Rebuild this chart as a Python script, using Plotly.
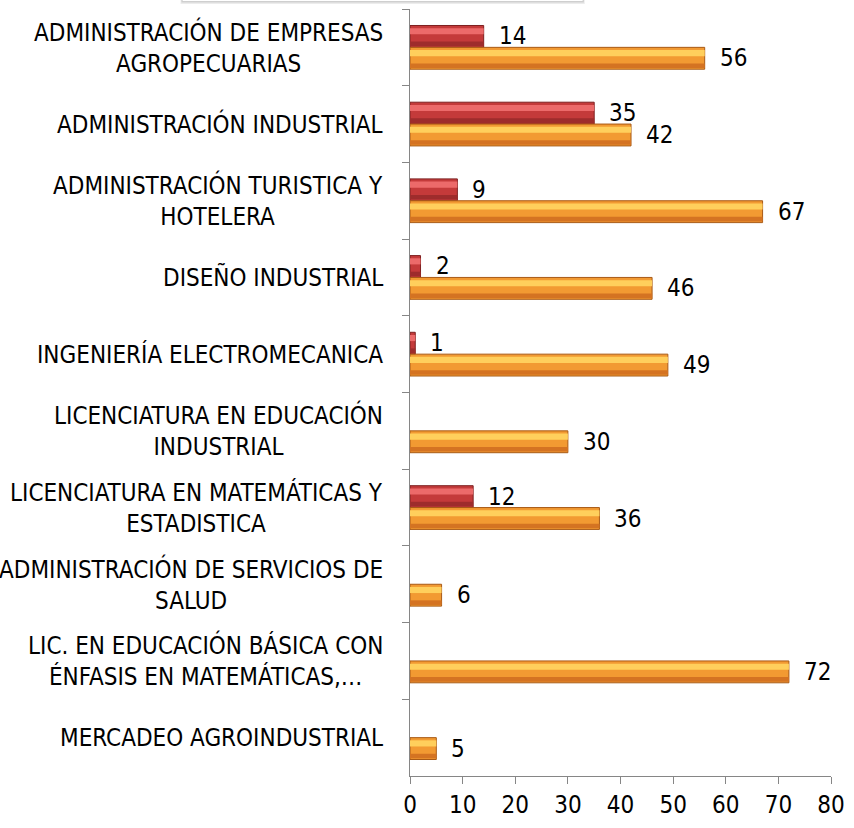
import plotly.graph_objects as go

categories = [
    "ADMINISTRACIÓN DE EMPRESAS<br>AGROPECUARIAS",
    "ADMINISTRACIÓN INDUSTRIAL",
    "ADMINISTRACIÓN TURISTICA Y<br>HOTELERA",
    "DISEÑO INDUSTRIAL",
    "INGENIERÍA ELECTROMECANICA",
    "LICENCIATURA EN EDUCACIÓN<br>INDUSTRIAL",
    "LICENCIATURA EN MATEMÁTICAS Y<br>ESTADISTICA",
    "ADMINISTRACIÓN DE SERVICIOS DE<br>SALUD",
    "LIC. EN EDUCACIÓN BÁSICA CON<br>ÉNFASIS EN MATEMÁTICAS,…",
    "MERCADEO AGROINDUSTRIAL",
]
series_red = [14, 35, 9, 2, 1, None, 12, None, None, None]
series_orange = [56, 42, 67, 46, 49, 30, 36, 6, 72, 5]
x_ticks = [0, 10, 20, 30, 40, 50, 60, 70, 80]

FONT = "DejaVu Sans Condensed, DejaVu Sans, sans-serif"
FS = 24
W = 0.285

fig = go.Figure()

def add_series(vals, start, mid, light, dark, outline):
    fig.add_trace(go.Bar(y=categories, x=vals, orientation="h", offset=start, width=W,
                         marker=dict(color=mid, line=dict(color=outline, width=1)),
                         showlegend=False))
    fig.add_trace(go.Bar(y=categories, x=vals, orientation="h", offset=start + 0.035, width=0.08,
                         marker=dict(color=light, line=dict(width=0)), showlegend=False, hoverinfo="skip"))
    fig.add_trace(go.Bar(y=categories, x=vals, orientation="h", offset=start + W - 0.075, width=0.06,
                         marker=dict(color=dark, line=dict(width=0)), showlegend=False, hoverinfo="skip"))

add_series(series_red, -W, "#c43a3a", "#ec6a6a", "#9e2c2c", "#7e2020")
add_series(series_orange, 0.0, "#f29a32", "#ffcf5c", "#d47322", "#a85a16")

annotations = []
for cat, v in zip(categories, series_red):
    if v is not None:
        annotations.append(dict(x=v, y=cat, text=str(v), showarrow=False, xanchor="left",
                                xshift=13, yshift=11, font=dict(size=FS, color="#000", family=FONT)))
for cat, v in zip(categories, series_orange):
    if v is not None:
        annotations.append(dict(x=v, y=cat, text=str(v), showarrow=False, xanchor="left",
                                xshift=13, yshift=-11, font=dict(size=FS, color="#000", family=FONT)))
for cat in categories:
    annotations.append(dict(x=0, xref="paper", y=cat, text=cat, showarrow=False, xanchor="right",
                            align="center", xshift=-25, font=dict(size=FS, color="#000", family=FONT)))

fig.update_layout(
    width=854, height=828,
    margin=dict(l=410, r=15, t=9, b=46),
    barmode="overlay",
    plot_bgcolor="white", paper_bgcolor="white",
    font=dict(family=FONT, size=FS, color="#000"),
    annotations=annotations,
    shapes=[
        dict(type="rect", xref="paper", yref="paper", x0=-0.545, x1=0.415, y0=1.0065, y1=1.02,
             line=dict(width=0), fillcolor="#ececec"),
        dict(type="rect", xref="paper", yref="paper", x0=-0.543, x1=0.413, y0=1.0085, y1=1.02,
             line=dict(width=0), fillcolor="#cfcfcf"),
        dict(type="rect", xref="paper", yref="paper", x0=-0.54, x1=0.41, y0=1.0105, y1=1.02,
             line=dict(width=0), fillcolor="white"),
    ],
    xaxis=dict(range=[0, 80], tickvals=x_ticks, ticktext=[str(t) for t in x_ticks],
               showgrid=False, zeroline=False, showline=True, linecolor="#868686", linewidth=1,
               ticks="outside", ticklen=7, tickcolor="#868686",
               tickfont=dict(size=FS, family=FONT, color="#000")),
    yaxis=dict(autorange="reversed", type="category", showticklabels=False,
               showgrid=False, showline=True, linecolor="#868686", linewidth=1,
               ticks="outside", ticklen=7, tickcolor="#868686", tickson="boundaries"),
)

fig.write_html("out.html", config={"displayModeBar": False},
               post_script="document.body.style.margin='0';")
